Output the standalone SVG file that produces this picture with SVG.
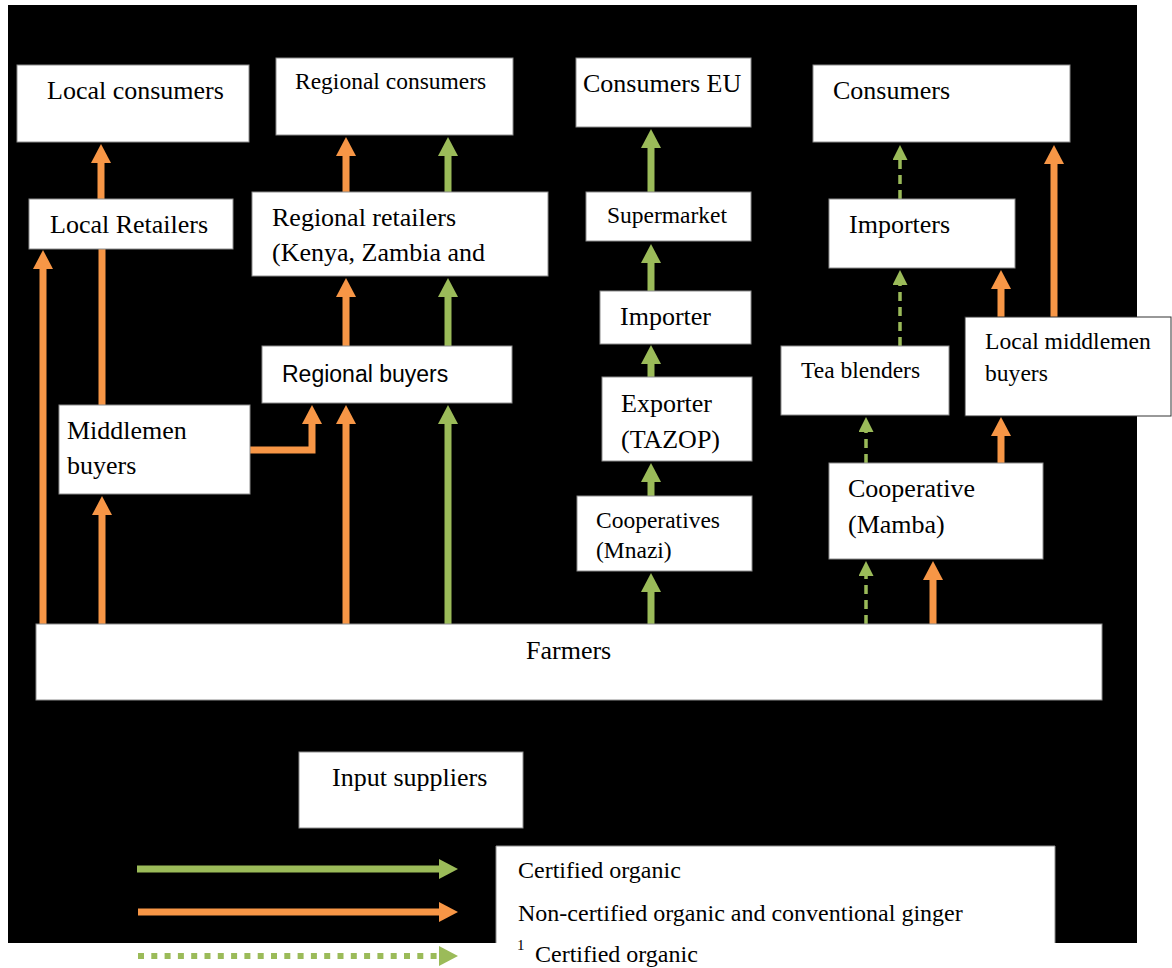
<svg xmlns="http://www.w3.org/2000/svg" width="1172" height="968" viewBox="0 0 1172 968">
<style>
.box{fill:#fff;stroke:#8c8c8c;stroke-width:1}
.t{font-family:"Liberation Serif","Times New Roman",serif;font-size:26px;fill:#000}
.s{font-size:23.5px}
.lg{font-size:24px}
.sans{font-family:"Liberation Sans",Arial,sans-serif;font-size:23px;fill:#000}
.o{stroke:#F79646;stroke-width:7;fill:none}
.g{stroke:#9BBB59;stroke-width:7;fill:none}
.gd{stroke:#9BBB59;stroke-width:3.5;fill:none;stroke-dasharray:9 6}
</style>
<defs>
<marker id="ho" markerUnits="userSpaceOnUse" markerWidth="19" markerHeight="20" viewBox="0 -10 19 20" refX="0" refY="0" orient="auto"><path d="M0,-10 L19,0 L0,10 Z" fill="#F79646"/></marker>
<marker id="hg" markerUnits="userSpaceOnUse" markerWidth="19" markerHeight="20" viewBox="0 -10 19 20" refX="0" refY="0" orient="auto"><path d="M0,-10 L19,0 L0,10 Z" fill="#9BBB59"/></marker>
<marker id="hgd" markerUnits="userSpaceOnUse" markerWidth="15" markerHeight="15" viewBox="0 -7.5 15 15" refX="0" refY="0" orient="auto"><path d="M0,-7.5 L15,0 L0,7.5 Z" fill="#9BBB59"/></marker>
</defs>
<rect x="0" y="0" width="1172" height="968" fill="#fff"/>
<rect x="8" y="5" width="1129" height="938" fill="#000"/>

<g id="connectors">
<line class="o" x1="43" y1="624" x2="43" y2="269" marker-end="url(#ho)"/>
<line class="o" x1="102" y1="405" x2="102" y2="249"/>
<line class="o" x1="101" y1="199" x2="101" y2="163" marker-end="url(#ho)"/>
<line class="o" x1="102" y1="624" x2="102" y2="515" marker-end="url(#ho)"/>
<polyline class="o" points="250,450 312,450 312,424" marker-end="url(#ho)"/>
<line class="o" x1="346" y1="624" x2="346" y2="424" marker-end="url(#ho)"/>
<line class="o" x1="346" y1="346" x2="346" y2="297" marker-end="url(#ho)"/>
<line class="o" x1="346" y1="192" x2="346" y2="156" marker-end="url(#ho)"/>
<line class="o" x1="933" y1="624" x2="933" y2="580" marker-end="url(#ho)"/>
<line class="o" x1="1001" y1="463" x2="1001" y2="436" marker-end="url(#ho)"/>
<line class="o" x1="1001" y1="317" x2="1001" y2="289" marker-end="url(#ho)"/>
<line class="o" x1="1054" y1="317" x2="1054" y2="164" marker-end="url(#ho)"/>

<line class="g" x1="448" y1="624" x2="448" y2="424" marker-end="url(#hg)"/>
<line class="g" x1="448" y1="346" x2="448" y2="297" marker-end="url(#hg)"/>
<line class="g" x1="448" y1="192" x2="448" y2="156" marker-end="url(#hg)"/>
<line class="g" x1="651" y1="624" x2="651" y2="592" marker-end="url(#hg)"/>
<line class="g" x1="651" y1="496" x2="651" y2="482" marker-end="url(#hg)"/>
<line class="g" x1="651" y1="377" x2="651" y2="364" marker-end="url(#hg)"/>
<line class="g" x1="651" y1="291" x2="651" y2="263" marker-end="url(#hg)"/>
<line class="g" x1="651" y1="192" x2="651" y2="148" marker-end="url(#hg)"/>

<line class="gd" x1="866" y1="624" x2="866" y2="576" marker-end="url(#hgd)"/>
<line class="gd" x1="866" y1="463" x2="866" y2="432" marker-end="url(#hgd)"/>
<line class="gd" x1="900" y1="346" x2="900" y2="285" marker-end="url(#hgd)"/>
<line class="gd" x1="900" y1="199" x2="900" y2="160" marker-end="url(#hgd)"/>
</g>

<g id="local-consumers"><rect class="box" x="17" y="65" width="232" height="77"/><text class="t" x="47" y="99">Local consumers</text></g>
<g id="regional-consumers"><rect class="box" x="276" y="58" width="237" height="77"/><text class="t s" x="295" y="89">Regional consumers</text></g>
<g id="consumers-eu"><rect class="box" x="576" y="58" width="175" height="69"/><text class="t" x="583" y="92">Consumers EU</text></g>
<g id="consumers"><rect class="box" x="813" y="65" width="257" height="77"/><text class="t" x="833" y="99">Consumers</text></g>
<g id="local-retailers"><rect class="box" x="29" y="199" width="204" height="50"/><text class="t" x="50" y="233">Local Retailers</text></g>
<g id="regional-retailers"><rect class="box" x="252" y="192" width="296" height="84"/><text class="t" x="272" y="226">Regional retailers</text><text class="t" x="272" y="261">(Kenya, Zambia and</text></g>
<g id="supermarket"><rect class="box" x="586" y="192" width="165" height="49"/><text class="t s" x="607" y="223">Supermarket</text></g>
<g id="importers"><rect class="box" x="829" y="199" width="186" height="69"/><text class="t" x="849" y="233">Importers</text></g>
<g id="importer"><rect class="box" x="600" y="291" width="151" height="53"/><text class="t" x="620" y="325">Importer</text></g>
<g id="regional-buyers"><rect class="box" x="262" y="346" width="250" height="57"/><text class="sans" x="282" y="382">Regional buyers</text></g>
<g id="tea-blenders"><rect class="box" x="781" y="346" width="168" height="69"/><text class="t s" x="801" y="378">Tea blenders</text></g>
<g id="local-middlemen-buyers"><rect class="box" x="965" y="317" width="206" height="99" style="stroke:#333"/><text class="t" style="font-size:23.6px" x="985" y="349">Local middlemen</text><text class="t" style="font-size:23.6px" x="985" y="381">buyers</text></g>
<g id="middlemen-buyers"><rect class="box" x="59" y="405" width="191" height="89"/><text class="t" x="67" y="439">Middlemen</text><text class="t" x="67" y="474">buyers</text></g>
<g id="exporter"><rect class="box" x="602" y="377" width="150" height="84"/><text class="t" x="621" y="412">Exporter</text><text class="t" x="621" y="448">(TAZOP)</text></g>
<g id="cooperatives-mnazi"><rect class="box" x="577" y="496" width="175" height="75"/><text class="t s" x="596" y="528">Cooperatives</text><text class="t s" x="596" y="558">(Mnazi)</text></g>
<g id="cooperative-mamba"><rect class="box" x="829" y="463" width="214" height="96"/><text class="t" x="848" y="497">Cooperative</text><text class="t" x="848" y="533">(Mamba)</text></g>
<g id="farmers"><rect class="box" x="36" y="624" width="1066" height="76"/><text class="t" x="526" y="659">Farmers</text></g>
<g id="input-suppliers"><rect class="box" x="299" y="752" width="224" height="76"/><text class="t" x="332" y="786">Input suppliers</text></g>

<g id="legend">
<rect x="496" y="846" width="559" height="122" fill="#fff"/>
<path d="M496,943 V846 H1055 V943" fill="none" stroke="#8c8c8c" stroke-width="1"/>
<line x1="137" y1="869" x2="439" y2="869" stroke="#9BBB59" stroke-width="7" marker-end="url(#hg)"/>
<line x1="138" y1="912" x2="439" y2="912" stroke="#F79646" stroke-width="7" marker-end="url(#ho)"/>
<line x1="138" y1="956" x2="439" y2="956" stroke="#9BBB59" stroke-width="6" stroke-dasharray="6 7.3" marker-end="url(#hg)"/>
<text class="t lg" x="518" y="878">Certified organic</text>
<text class="t lg" x="518" y="921">Non-certified organic and conventional ginger</text>
<text class="t" style="font-size:15px" x="517" y="950">1</text>
<text class="t lg" x="535" y="962">Certified organic</text>
</g>
</svg>
